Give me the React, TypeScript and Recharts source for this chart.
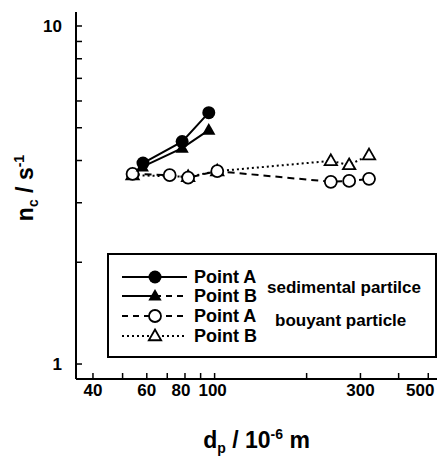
import React from 'react';
import { LineChart, Line, XAxis, YAxis, Legend, Label } from 'recharts';

// values (log-log axes)
const sedAX = [58.3, 78.3, 95.7];
const sedAY = [3.93, 4.55, 5.54];
const sedBX = [58.0, 78.3, 95.7];
const sedBY = [3.83, 4.35, 4.92];
const buoAX = [53.9, 71.3, 81.9, 102, 240, 275.5, 320];
const buoAY = [3.65, 3.62, 3.56, 3.72, 3.46, 3.48, 3.53];
const buoBX = [53.9, 81.9, 102, 240, 275.5, 320];
const buoBY = [3.62, 3.58, 3.72, 3.99, 3.88, 4.15];

const xTicks = [40, 50, 60, 70, 80, 90, 100, 200, 300, 400, 500];
const xLabels = [40, 60, 80, 100, 300, 500];
const yTicks = [1, 2, 3, 4, 5, 6, 7, 8, 9, 10];
const yLabels = [1, 10];
const legendNames = ['Point A', 'Point B', 'Point A', 'Point B'];
const groupNames = ['sedimental partilce', 'bouyant particle'];

const FONT = 'Liberation Sans, Arial, sans-serif';

const toRows = (xs: number[], ys: number[]) => xs.map((x, i) => ({ x, y: ys[i] }));

const triPath = (cx: number, cy: number, s: number) =>
  `M${cx},${cy - s} L${cx + s * 0.95},${cy + s * 0.65} L${cx - s * 0.95},${cy + s * 0.65} Z`;

const FilledCircle = (p: any) => <circle key={`fc${p.index}`} cx={p.cx} cy={p.cy} r={6.5} fill="#000" />;
const FilledTri = (p: any) => <path key={`ft${p.index}`} d={triPath(p.cx, p.cy, 7)} fill="#000" />;
const OpenCircle = (p: any) => (
  <circle key={`oc${p.index}`} cx={p.cx} cy={p.cy} r={6} fill="#fff" stroke="#000" strokeWidth={1.8} />
);
const OpenTri = (p: any) => (
  <path key={`ot${p.index}`} d={triPath(p.cx, p.cy, 6.5)} fill="#fff" stroke="#000" strokeWidth={1.8} />
);

// tick labels sit a little left of their tick where the scan crowds them
const xShift: Record<number, number> = { 80: -4, 100: -2, 500: -8 };

const XTick = (p: any) => {
  const v = p.payload.value;
  if (!xLabels.includes(v)) return <g />;
  return (
    <text x={p.x + (xShift[v] || 0)} y={p.y + 7} textAnchor="middle" fontFamily={FONT} fontSize={17} fontWeight="bold" fill="#000">
      {v}
    </text>
  );
};

const YTick = (p: any) => {
  const v = p.payload.value;
  if (!yLabels.includes(v)) return <g />;
  return (
    <text x={p.x} y={p.y + 6} textAnchor="end" fontFamily={FONT} fontSize={17} fontWeight="bold" fill="#000">
      {v}
    </text>
  );
};

const LegendBox = () => {
  const rows = [12, 31, 51, 71];
  return (
    <svg width={330} height={105} style={{ display: 'block' }}>
      <rect x={1} y={1} width={328} height={103} fill="#fff" stroke="#000" strokeWidth={2} />
      {/* row 1: solid, filled circle */}
      <line x1={15} x2={80} y1={rows[0] + 12} y2={rows[0] + 12} stroke="#000" strokeWidth={1.8} />
      <circle cx={48} cy={rows[0] + 12} r={6.5} fill="#000" />
      {/* row 2: solid then dashed, filled triangle */}
      <line x1={15} x2={48} y1={rows[1] + 12} y2={rows[1] + 12} stroke="#000" strokeWidth={1.8} />
      <line x1={48} x2={80} y1={rows[1] + 12} y2={rows[1] + 12} stroke="#000" strokeWidth={1.8} strokeDasharray="6 5" />
      <path d={triPath(48, rows[1] + 12, 7)} fill="#000" />
      {/* row 3: dashed, open circle */}
      <line x1={15} x2={80} y1={rows[2] + 12} y2={rows[2] + 12} stroke="#000" strokeWidth={1.8} strokeDasharray="6 5" />
      <circle cx={48} cy={rows[2] + 12} r={6} fill="#fff" stroke="#000" strokeWidth={1.8} />
      {/* row 4: dotted, open triangle */}
      <line x1={15} x2={80} y1={rows[3] + 12} y2={rows[3] + 12} stroke="#000" strokeWidth={1.8} strokeDasharray="2 3" />
      <path d={triPath(48, rows[3] + 12, 6.5)} fill="#fff" stroke="#000" strokeWidth={1.8} />
      {legendNames.map((n, i) => (
        <text key={i} x={87} y={rows[i] + 18} fontFamily={FONT} fontSize={18} fontWeight="bold" fill="#000">
          {n}
        </text>
      ))}
      <text x={160} y={40} fontFamily={FONT} fontSize={17} fontWeight="bold" fill="#000">{groupNames[0]}</text>
      <text x={168} y={73} fontFamily={FONT} fontSize={17} fontWeight="bold" fill="#000">{groupNames[1]}</text>
    </svg>
  );
};

export default function App() {
  return (
    <div style={{ position: 'absolute', left: 0, top: 0 }}>
      <LineChart width={440} height={457} margin={{ top: 12, right: 3, bottom: 38, left: 36 }}>
        <XAxis
          xAxisId="b"
          dataKey="x"
          type="number"
          scale="log"
          domain={[35.2, 534]}
          allowDataOverflow
          ticks={xTicks}
          interval={0}
          height={40}
          tickSize={-6}
          tickMargin={16}
          axisLine={{ stroke: '#000', strokeWidth: 2 }}
          tickLine={{ stroke: '#000', strokeWidth: 1.5 }}
          tick={XTick}
        >
          <Label
            content={(props: any) => {
              const vb = props.viewBox;
              return (
                <text x={vb.x + vb.width / 2} y={vb.y + 69} textAnchor="middle" fontFamily={FONT} fontSize={23} fontWeight="bold" fill="#000">
                  d<tspan dy={5} fontSize={14}>p</tspan>
                  <tspan dy={-5}> / 10</tspan>
                  <tspan dy={-9} fontSize={14}>-6</tspan>
                  <tspan dy={9}> m</tspan>
                </text>
              );
            }}
          />
        </XAxis>
        <XAxis
          xAxisId="t"
          orientation="top"
          type="number"
          scale="log"
          domain={[35.2, 534]}
          allowDataOverflow
          ticks={xTicks}
          interval={0}
          height={0}
          tickSize={-6}
          tick={false}
          axisLine={{ stroke: '#000', strokeWidth: 2 }}
          tickLine={{ stroke: '#000', strokeWidth: 1.5 }}
        />
        <YAxis
          yAxisId="l"
          type="number"
          scale="log"
          domain={[0.903, 11.0]}
          allowDataOverflow
          ticks={yTicks}
          interval={0}
          width={40}
          tickSize={-6}
          tickMargin={20}
          axisLine={{ stroke: '#000', strokeWidth: 2 }}
          tickLine={{ stroke: '#000', strokeWidth: 1.5 }}
          tick={YTick}
        >
          <Label
            content={() => (
              <text x={33} y={188} transform="rotate(-90, 33, 188)" textAnchor="middle" fontFamily={FONT} fontSize={23} fontWeight="bold" fill="#000">
                n<tspan dy={5} fontSize={14}>c</tspan>
                <tspan dy={-5}> / s</tspan>
                <tspan dy={-9} fontSize={14}>-1</tspan>
              </text>
            )}
          />
        </YAxis>
        <YAxis
          yAxisId="r"
          orientation="right"
          type="number"
          scale="log"
          domain={[0.903, 11.0]}
          allowDataOverflow
          ticks={yTicks}
          interval={0}
          width={0}
          tickSize={-6}
          tick={false}
          axisLine={{ stroke: '#000', strokeWidth: 2 }}
          tickLine={{ stroke: '#000', strokeWidth: 1.5 }}
        />
        <Line xAxisId="b" yAxisId="l" data={toRows(buoBX, buoBY)} dataKey="y" stroke="#000" strokeWidth={2} strokeDasharray="2 3" dot={OpenTri} isAnimationActive={false} />
        <Line xAxisId="b" yAxisId="l" data={toRows(buoAX, buoAY)} dataKey="y" stroke="#000" strokeWidth={2} strokeDasharray="7 5" dot={OpenCircle} isAnimationActive={false} />
        <Line xAxisId="b" yAxisId="l" data={toRows(sedBX, sedBY)} dataKey="y" stroke="#000" strokeWidth={2} dot={FilledTri} isAnimationActive={false} />
        <Line xAxisId="b" yAxisId="l" data={toRows(sedAX, sedAY)} dataKey="y" stroke="#000" strokeWidth={2} dot={FilledCircle} isAnimationActive={false} />
        <Legend
          layout="vertical"
          align="center"
          verticalAlign="middle"
          wrapperStyle={{ left: 107, top: 253, width: 330, height: 105 }}
          content={() => <LegendBox />}
        />
      </LineChart>
    </div>
  );
}
